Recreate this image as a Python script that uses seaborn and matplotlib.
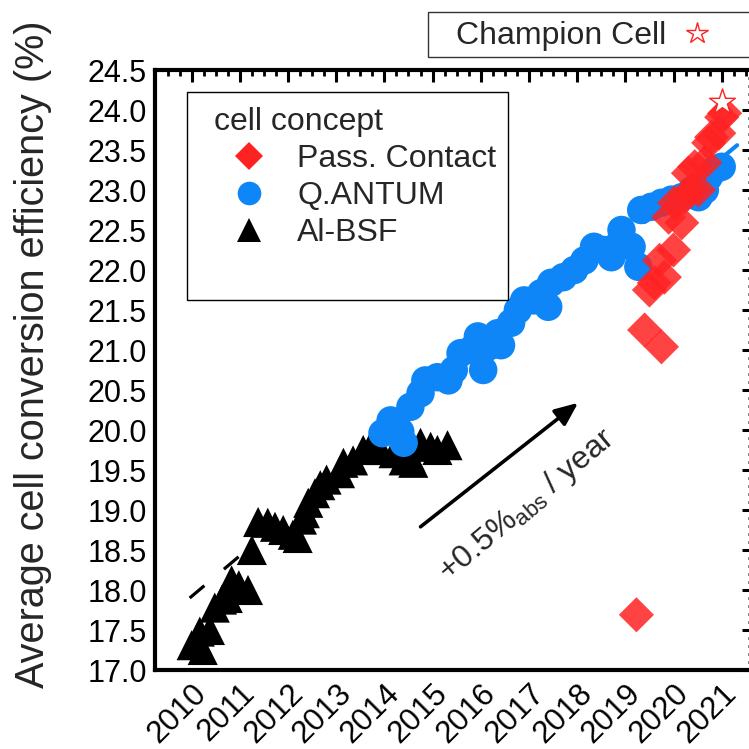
import matplotlib
matplotlib.use("Agg")
import matplotlib.pyplot as plt
import matplotlib.transforms as mtransforms
from matplotlib.lines import Line2D
from matplotlib.patches import Rectangle
import seaborn as sns
import pandas as pd

# ---------------- data ----------------
albsf_year = [2010.0, 2010.23, 2010.17, 2010.38, 2010.48, 2010.63, 2010.75, 2010.83, 2010.98,
              2011.17, 2011.25, 2011.38, 2011.58, 2011.73, 2011.9, 2012.1, 2012.2, 2012.29,
              2012.35, 2012.42, 2012.56, 2012.67, 2012.8, 2013.08, 2013.15, 2013.35, 2013.56,
              2013.71, 2013.92, 2014.19, 2014.4, 2014.54, 2014.6, 2014.75, 2014.96, 2015.1, 2015.31]
albsf_eff = [17.31, 17.25, 17.48, 17.5, 17.78, 17.88, 17.9, 18.12, 18.06,
             18.0, 18.5, 18.85, 18.84, 18.79, 18.75, 18.69, 18.65, 18.88,
             18.96, 19.09, 19.21, 19.31, 19.38, 19.46, 19.59, 19.62, 19.75,
             19.79, 19.75, 19.71, 19.62, 19.66, 19.59, 19.84, 19.79, 19.75, 19.81]

qantum_year = [2013.96, 2014.13, 2014.33, 2014.4, 2014.54, 2014.75, 2014.85, 2015.1, 2015.33,
               2015.44, 2015.58, 2015.79, 2015.94, 2016.05, 2016.15, 2016.35, 2016.42, 2016.63,
               2016.77, 2016.9, 2017.1, 2017.25, 2017.4, 2017.46, 2017.71, 2017.94, 2018.15,
               2018.35, 2018.56, 2018.71, 2018.88, 2018.92, 2019.13, 2019.27, 2019.33, 2019.54,
               2019.75, 2019.96, 2020.17, 2020.38, 2020.52, 2020.65, 2020.73, 2020.85, 2021.0]
qantum_eff = [19.96, 20.12, 19.98, 19.84, 20.29, 20.46, 20.62, 20.66, 20.62,
              20.75, 20.96, 21.0, 21.17, 20.75, 21.04, 21.21, 21.06, 21.34,
              21.5, 21.62, 21.62, 21.71, 21.54, 21.84, 21.91, 22.0, 22.12,
              22.29, 22.25, 22.16, 22.34, 22.5, 22.29, 22.04, 22.75, 22.79,
              22.84, 22.88, 22.91, 23.0, 22.91, 23.0, 23.16, 23.25, 23.29]

pc_year = [2019.23, 2019.4, 2019.5, 2019.6, 2019.71, 2019.75, 2019.81, 2019.9, 2020.0, 2020.02,
           2020.17, 2020.23, 2020.31, 2020.38, 2020.44, 2020.52, 2020.65, 2020.73, 2020.79,
           2020.94, 2021.0, 2021.06]
pc_eff = [17.69, 21.25, 21.75, 21.84, 22.12, 21.04, 21.91, 22.66, 22.25, 22.84,
          22.59, 22.91, 23.21, 23.0, 23.29, 23.0, 23.34, 23.59, 23.66,
          23.71, 23.91, 23.96]

champion_year = [2021.0]
champion_eff = [24.1]

albsf_trend_year = [2009.96, 2011.3]
albsf_trend_eff = [17.9, 18.58]
qantum_trend_year = [2019.4, 2021.32]
qantum_trend_eff = [22.6, 23.56]

year_ticks = list(range(2010, 2022))
eff_ticks = [17.0, 17.5, 18.0, 18.5, 19.0, 19.5, 20.0, 20.5, 21.0, 21.5, 22.0, 22.5, 23.0, 23.5, 24.0, 24.5]

# ---------------- style ----------------
sns.set_style("white")
plt.rcParams["font.family"] = ["Liberation Sans", "DejaVu Sans"]
plt.rcParams["mathtext.fontset"] = "custom"
plt.rcParams["mathtext.rm"] = "Liberation Sans"
plt.rcParams["mathtext.it"] = "Liberation Sans"

BLUE = "#0f86f7"
RED = "#ff2222"

fig = plt.figure(figsize=(7.49, 7.49), dpi=100)
W = 749.0
ax = fig.add_axes([155 / W, 1 - 670 / W, 599 / W, 600 / W])

df_al = pd.DataFrame({"year": albsf_year, "eff": albsf_eff})
df_q = pd.DataFrame({"year": qantum_year, "eff": qantum_eff})
df_pc = pd.DataFrame({"year": pc_year, "eff": pc_eff})

sns.lineplot(x=albsf_trend_year, y=albsf_trend_eff, ax=ax, color="black", lw=2.3,
             linestyle=(0, (6, 8)), zorder=1)
sns.lineplot(x=qantum_trend_year, y=qantum_trend_eff, ax=ax, color=BLUE, lw=3, zorder=1)

sns.scatterplot(data=df_al, x="year", y="eff", ax=ax, marker="^", s=470, color="black",
                edgecolor="none", zorder=2)
sns.scatterplot(data=df_q, x="year", y="eff", ax=ax, marker="o", s=420, color=BLUE,
                edgecolor="none", zorder=3)
sns.scatterplot(data=df_pc, x="year", y="eff", ax=ax, marker="D", s=320, color=RED,
                alpha=0.85, edgecolor="none", zorder=4)
sns.scatterplot(x=champion_year, y=champion_eff, ax=ax, marker="*", s=380, facecolor="white",
                edgecolor=RED, linewidth=1.0, zorder=5)

ax.set_xlim(2009.24, 2021.67)
ax.set_ylim(17.0, 24.5)
ax.set_xticks(year_ticks)
ax.set_xticklabels([str(y) for y in year_ticks], rotation=45, ha="right",
                   rotation_mode="anchor", fontsize=22.5)
shift = mtransforms.ScaledTranslation(-5 / 100, -6 / 100, fig.dpi_scale_trans)
for lab in ax.get_xticklabels():
    lab.set_transform(lab.get_transform() + shift)
ax.set_yticks(eff_ticks)
ax.set_yticklabels([f"{v:.1f}" for v in eff_ticks], fontsize=22)
ax.xaxis.set_minor_locator(matplotlib.ticker.MultipleLocator(0.25))
ax.yaxis.set_minor_locator(matplotlib.ticker.MultipleLocator(0.1))
ax.tick_params(which="both", direction="in", top=True, right=True, width=2.2, colors="black")
ax.tick_params(which="major", length=8.5, pad=6)
ax.tick_params(which="minor", length=4.5, width=2.0)
for sp in ax.spines.values():
    sp.set_linewidth(3)
    sp.set_color("black")

ax.set_xlabel("")
ax.set_ylabel("Average cell conversion efficiency (%)", fontsize=28.5)
ax.yaxis.set_label_coords((52 - 155) / 599, (670 - 354) / 600)

# arrow and annotation
ax.annotate("", xy=(2018.02, 20.34), xytext=(2014.75, 18.79),
            arrowprops=dict(arrowstyle="-|>,head_length=1.4,head_width=0.6", lw=2.6,
                            color="black", shrinkA=0, shrinkB=0))
ax.text(2016.95, 19.05, r"+0.5%$_{\mathrm{abs}}$ / year", rotation=40, fontsize=23,
        ha="center", va="center", rotation_mode="anchor")

# legend (frame drawn separately for its asymmetric padding)
ax.add_patch(Rectangle(((187 - 155) / 599, 1 - (300 - 70) / 600), (508 - 187) / 599,
                       (300 - 92) / 600, transform=ax.transAxes, facecolor="white",
                       edgecolor="black", lw=1.0, zorder=6))
handles = [
    Line2D([], [], marker="D", color=RED, linestyle="none", markersize=14, markeredgewidth=0),
    Line2D([], [], marker="o", color=BLUE, linestyle="none", markersize=17, markeredgewidth=0),
    Line2D([], [], marker="^", color="black", linestyle="none", markersize=17, markeredgewidth=0),
]
leg = ax.legend(handles, ["Pass. Contact", "Q.ANTUM", "Al-BSF"], title="cell concept",
                loc="upper left", bbox_to_anchor=((214 - 155) / 599, 1 - (107 - 70) / 600),
                borderaxespad=0, borderpad=0, fontsize=23, title_fontsize=23, frameon=False,
                labelspacing=0.22, handletextpad=0.4, handlelength=2.2, alignment="left")
leg.set_zorder(7)

# champion legend (outside, top)
fig.patches.append(Rectangle((428 / W, 1 - 57 / W), 340 / W, 45 / W,
                             transform=fig.transFigure, facecolor="white",
                             edgecolor="#333333", lw=1.0, figure=fig))
champ_handle = Line2D([], [], marker="*", color=RED, markerfacecolor="white",
                      linestyle="none", markersize=16, markeredgewidth=1.0)
fig.legend([champ_handle], ["Champion Cell"], loc="center left",
           bbox_to_anchor=(456 / W, 1 - 36 / W), borderaxespad=0, borderpad=0, fontsize=23,
           frameon=False, markerfirst=False, handlelength=1.2, handletextpad=0.35)

fig.savefig("out.png", dpi=100)
